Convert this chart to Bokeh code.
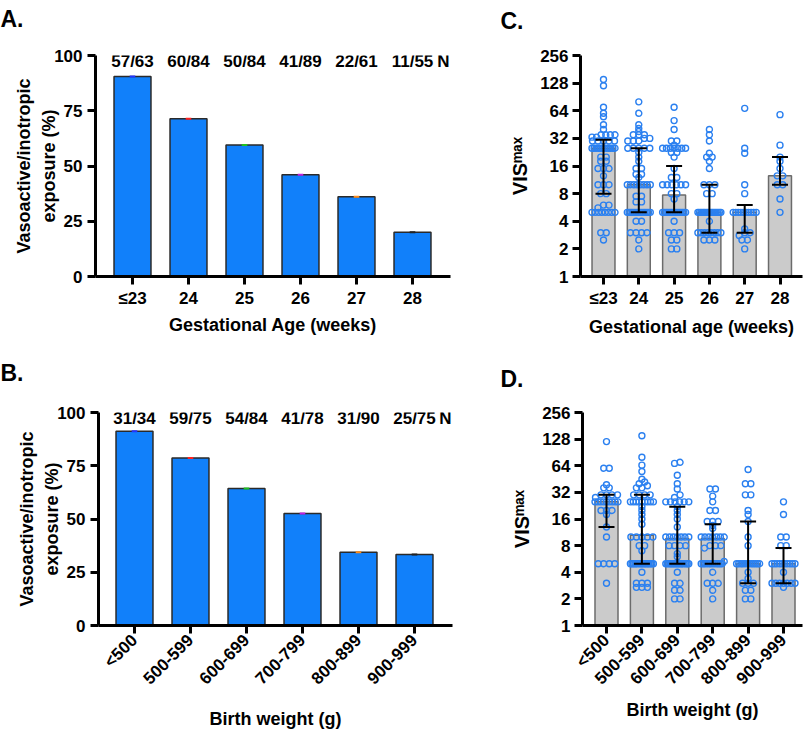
import math
from bokeh.plotting import figure
from bokeh.layouts import column, row
from bokeh.models import Range1d, FixedTicker, Label, Title
from bokeh.embed import file_html
from bokeh.resources import INLINE

FONT = "Liberation Sans"

# ---------------- data ----------------
ga_labels = ["≤23", "24", "25", "26", "27", "28"]
ga_exposed = [57, 60, 50, 41, 22, 11]
ga_total = [63, 84, 84, 89, 61, 55]

bw_labels = ["<500", "500-599", "600-699", "700-799", "800-899", "900-999"]
bw_exposed = [31, 59, 54, 41, 31, 25]
bw_total = [34, 75, 84, 78, 90, 75]

mark_colors = ["#2233ff", "#ff2020", "#22c022", "#c020e0", "#ff8c1a", "#222222"]

ga_median = [25, 10, 7.75, 5, 5, 12.5]
ga_q1 = [8, 5, 5, 3, 3, 10]
ga_q3 = [31, 25, 16, 10, 6, 20]

bw_median = [25, 10.5, 9.6, 9.6, 5, 5]
bw_q1 = [13, 5, 5, 5, 3, 3]
bw_q3 = [30, 30, 22, 14, 15, 7.5]

vis_ga_23 = [140, 120, 70, 60, 55, 45, 40, 35, 35, 35, 35, 33, 33, 30, 30, 30, 30, 30,
             25, 25, 25, 25, 25, 25, 25, 25, 25, 25, 25, 25, 20, 20, 18, 18, 15, 15, 15,
             12.5, 10, 10, 10, 8, 8, 6, 6, 5.6, 5, 5, 5, 5, 5, 5, 5, 5, 3, 3, 2.5]
vis_ga_24 = [80, 60, 45, 41, 38, 35, 35, 35, 32, 32, 30, 30, 30, 25, 25, 25, 25, 25,
             22.5, 20, 18, 15, 15, 13, 13, 12, 10, 10, 10, 10, 10, 10, 10, 10, 7.5, 7.5,
             6.5, 6.5, 5, 5, 5, 5, 5, 5, 5, 5, 5, 5, 5, 5, 5, 5, 4, 4, 3, 3, 3, 3, 2.5, 2]
vis_ga_25 = [70, 50, 40, 30, 30, 27, 25, 25, 25, 25, 25, 25, 25, 22.5, 22.5, 20, 15, 12, 12,
             10, 10, 10, 10, 10, 10, 8, 8, 7, 5, 5, 5, 5, 5, 5, 5, 5, 5, 5, 5, 5, 5, 5,
             4, 3, 3, 3, 2.5, 2.5, 2, 2]
vis_ga_26 = [40, 35, 30, 22, 20, 20, 18, 15, 10, 10, 10, 8, 8, 5, 5, 5, 5, 5, 5, 5, 5,
             5, 5, 5, 5, 5, 5, 5, 5, 4, 3, 3, 3, 3, 3, 3, 3, 3, 2.5, 2.5, 2.5]
vis_ga_27 = [68, 25, 22, 10, 8, 5, 5, 5, 5, 5, 5, 5, 5, 5, 5, 3.3, 3, 3, 2.8, 2.5, 2.5, 2]
vis_ga_28 = [58, 27, 20, 18, 15, 12.5, 12.5, 10, 10, 7, 5]

vis_bw_lt500 = [120, 60, 60, 39, 36, 36, 30, 30, 30, 30, 28, 25, 25, 25, 25, 25, 25, 25, 25,
                25, 20, 20, 20, 18, 13, 10, 5, 5, 5, 5, 3]
vis_bw_500 = [140, 80, 65, 55, 45, 42, 40, 38, 36, 36, 30, 30, 30, 30, 25, 25, 25, 25, 25,
              25, 25, 25, 25, 22, 20, 18, 16, 14, 10, 10, 10, 10, 10, 8, 8, 7, 5, 5, 5, 5,
              5, 5, 5, 5, 5, 5, 5, 5, 5, 5, 5, 5, 4, 3, 3, 3, 2.7, 2.7, 2.7]
vis_bw_600 = [70, 68, 50, 40, 35, 30, 28, 25, 25, 25, 25, 25, 25, 22, 20, 18, 16, 13, 10, 10,
              10, 10, 10, 10, 10, 8, 8, 8, 8, 6.5, 6, 5, 5, 5, 5, 5, 5, 5, 5, 5, 5, 5, 5, 5,
              5, 5, 5, 4, 3, 3, 2.5, 2.5, 2, 2]
vis_bw_700 = [35, 35, 29, 25, 20, 20, 15, 15, 15, 13.5, 12.5, 10, 10, 10, 10, 10, 10, 10,
              8, 8, 8, 7.5, 5.3, 5, 5, 5, 5, 5, 5, 5, 5, 5, 5, 5, 5, 4, 3, 3, 3, 2.5, 2]
vis_bw_800 = [58, 40, 40, 30, 30, 20, 18, 15, 10, 8, 5, 5, 5, 5, 5, 5, 5, 5, 5, 5, 5, 5,
              4, 3.4, 3, 3, 3, 2.5, 2.5, 2, 2]
vis_bw_900 = [25, 18, 10, 10, 8, 8, 5, 5, 5, 5, 5, 5, 5, 5, 5, 5, 4, 3, 3, 3, 3, 3, 3, 3, 2.7]

vis_ga = [vis_ga_23, vis_ga_24, vis_ga_25, vis_ga_26, vis_ga_27, vis_ga_28]
vis_bw = [vis_bw_lt500, vis_bw_500, vis_bw_600, vis_bw_700, vis_bw_800, vis_bw_900]

log_ticks = [1, 2, 4, 8, 16, 32, 64, 128, 256]

pct_ylabel = "Vasoactive/inotropic\nexposure (%)"
vis_ylabel = "VIS\u1d50\u1d43\u02e3"

# ---------------- styling helpers ----------------
BLUE_BAR = "#1180fa"
GREY_BAR = "#cbcbcb"
DOT = "#2b80f0"
TITLE_H = 31


class Geo:
    """window-pixel geometry of one panel"""
    def __init__(self, x0, y0, w, h, fl, fr, ft, fb, cx0, step, ymax, log=False):
        self.x0, self.y0, self.w, self.h = x0, y0, w, h
        self.fl, self.fr, self.ft, self.fb = fl, fr, ft, fb
        self.cx0, self.step, self.ymax, self.log = cx0, step, ymax, log

    def xd(self, wx):
        return (wx - self.cx0) / self.step

    def yd(self, wy):
        frac = (self.fb - wy) / (self.fb - self.ft)
        if self.log:
            return 2 ** (8 * frac)
        return self.ymax * frac


def make_fig(g, letter):
    p = figure(width=g.w, height=g.h, output_backend="svg", toolbar_location=None,
               x_range=Range1d(g.xd(g.fl), g.xd(g.fr)),
               y_range=Range1d(1 if g.log else 0, g.ymax),
               y_axis_type="log" if g.log else "linear")
    p.min_border_left = g.fl - g.x0
    p.min_border_right = g.x0 + g.w - g.fr
    p.min_border_top = g.ft - g.y0
    p.min_border_bottom = g.y0 + g.h - g.fb
    p.outline_line_color = None
    p.xgrid.visible = False
    p.ygrid.visible = False
    p.background_fill_color = "white"
    p.border_fill_color = "white"
    xa = p.below[0]
    ya = p.left[0]
    for ax in (xa, ya):
        ax.axis_line_width = 3
        ax.axis_line_color = "black"
        ax.major_tick_line_width = 3
        ax.major_tick_line_color = "black"
        ax.major_tick_out = 8
        ax.major_tick_in = 0
        ax.minor_tick_line_color = None
        ax.major_label_text_font = FONT
        ax.major_label_text_font_style = "bold"
        ax.major_label_text_font_size = "17px"
        ax.major_label_text_color = "black"
        ax.axis_label_text_font = FONT
        ax.axis_label_text_font_style = "bold"
        ax.axis_label_text_font_size = "18px"
        ax.axis_label_text_color = "black"
    # blank spacer title between the frame and the panel letter
    filler = max(0, (g.ft - g.y0) - TITLE_H)
    spacer = Title(text=" ", text_font=FONT, text_font_size="2px",
                   standoff=max(0, filler - 4))
    p.add_layout(spacer, "above")
    t = Title(text=letter, text_font=FONT, text_font_style="bold", text_font_size="23px",
              text_color="black", align="left", offset=-(g.fl - g.x0), standoff=0)
    p.add_layout(t, "above")
    return p, xa, ya


def swarm_offsets(vals, px_per_doubling, px_per_unit, half_px=11.5):
    ys = [math.log2(v) * px_per_doubling for v in vals]
    order = sorted(range(len(vals)), key=lambda i: ys[i])
    offs = [0.0] * len(vals)
    clusters = []
    for i in order:
        if clusters and ys[i] - ys[clusters[-1][0]] < 3.0:
            clusters[-1].append(i)
        else:
            clusters.append([i])
    for c in clusters:
        k = len(c)
        if k == 1:
            continue
        st = min(5.5, 2 * half_px / (k - 1))
        for j, i in enumerate(c):
            offs[i] = (j - (k - 1) / 2) * st / px_per_unit
    return offs


def pct_panel(g, labels, exposed, total, xtitle, letter, rotate, xt_standoff):
    p, xa, ya = make_fig(g, letter)
    xs = list(range(len(labels)))
    pct = [100.0 * e / t for e, t in zip(exposed, total)]
    p.vbar(x=xs, top=pct, bottom=0, width=0.66, fill_color=BLUE_BAR,
           line_color="#2a2a2a", line_width=1.5)
    p.segment(x0=[x - 0.05 for x in xs], x1=[x + 0.05 for x in xs], y0=pct, y1=pct,
              line_color=mark_colors, line_width=2)
    xa.ticker = FixedTicker(ticks=xs)
    xa.major_label_overrides = {i: l for i, l in enumerate(labels)}
    ya.ticker = FixedTicker(ticks=[0, 25, 50, 75, 100])
    xa.axis_label = xtitle
    ya.axis_label = pct_ylabel
    ya.axis_label_text_font_size = "18px"
    ya.axis_label_text_line_height = 1.25
    ya.axis_label_standoff = -8
    ya.major_label_standoff = 5
    xa.major_label_standoff = 4
    xa.axis_label_standoff = xt_standoff
    if rotate:
        xa.major_label_orientation = math.pi / 4
    ywin = g.ft + 6
    for x, e, t in zip(xs, exposed, total):
        p.add_layout(Label(x=x, y=g.yd(ywin), text=f"{e}/{t}", text_font=FONT,
                           text_font_style="bold", text_font_size="17px",
                           text_align="center", text_baseline="middle",
                           text_color="black"))
    p.add_layout(Label(x=g.xd(g.fr - 1), y=g.yd(ywin), text="N", text_font=FONT,
                       text_font_style="bold", text_font_size="17px",
                       text_align="right", text_baseline="middle", text_color="black"))
    return p


def vis_panel(g, labels, groups, med, q1, q3, xtitle, letter, rotate, xt_standoff):
    p, xa, ya = make_fig(g, letter)
    xs = list(range(len(labels)))
    p.vbar(x=xs, top=med, bottom=1, width=0.65, fill_color=GREY_BAR,
           line_color="#6b6b6b", line_width=1.5)
    pxd = (g.fb - g.ft) / 8.0
    px, py = [], []
    for x, vals in zip(xs, groups):
        offs = swarm_offsets(vals, pxd, g.step)
        px += [x + o for o in offs]
        py += vals
    p.scatter(x=px, y=py, marker="circle", size=6, fill_color=None,
              line_color=DOT, line_width=1.4)
    cap = 8.0 / g.step
    p.segment(x0=xs, x1=xs, y0=q1, y1=q3, line_color="black", line_width=2)
    p.segment(x0=[x - cap for x in xs], x1=[x + cap for x in xs], y0=q1, y1=q1,
              line_color="black", line_width=2)
    p.segment(x0=[x - cap for x in xs], x1=[x + cap for x in xs], y0=q3, y1=q3,
              line_color="black", line_width=2)
    xa.ticker = FixedTicker(ticks=xs)
    xa.major_label_overrides = {i: l for i, l in enumerate(labels)}
    ya.ticker = FixedTicker(ticks=log_ticks)
    ya.major_label_overrides = {t: str(t) for t in log_ticks}
    ya.major_label_standoff = 4
    ya.axis_label = vis_ylabel
    ya.axis_label_text_font_size = "20px"
    ya.axis_label_standoff = 6
    xa.axis_label = xtitle
    xa.major_label_standoff = 4
    xa.axis_label_standoff = xt_standoff
    if rotate:
        xa.major_label_orientation = math.pi / 4
    return p


ROW1 = 354
gA = Geo(0, 0, 500, ROW1, 95, 450, 55, 276, 132, 56, 100)
gC = Geo(500, 0, 310, ROW1, 580, 802, 53, 277, 603, 35.3, 256, log=True)
gB = Geo(0, ROW1, 500, 732 - ROW1, 98, 452, 412, 634, 134, 56, 100)
gD = Geo(500, ROW1, 310, 732 - ROW1, 582, 802, 406, 631, 606, 35.4, 256, log=True)

pA = pct_panel(gA, ga_labels, ga_exposed, ga_total, "Gestational Age (weeks)", "A.",
               False, 4)
pB = pct_panel(gB, bw_labels, bw_exposed, bw_total, "Birth weight (g)", "B.", True, 11)
pC = vis_panel(gC, ga_labels, vis_ga, ga_median, ga_q1, ga_q3, "Gestational age (weeks)",
               "C.", False, 6)
pD = vis_panel(gD, bw_labels, vis_bw, bw_median, bw_q1, bw_q3, "Birth weight (g)",
               "D.", True, 2)

layout = column(row(pA, pC), row(pB, pD))
open("out.html", "w").write(file_html(layout, INLINE))
